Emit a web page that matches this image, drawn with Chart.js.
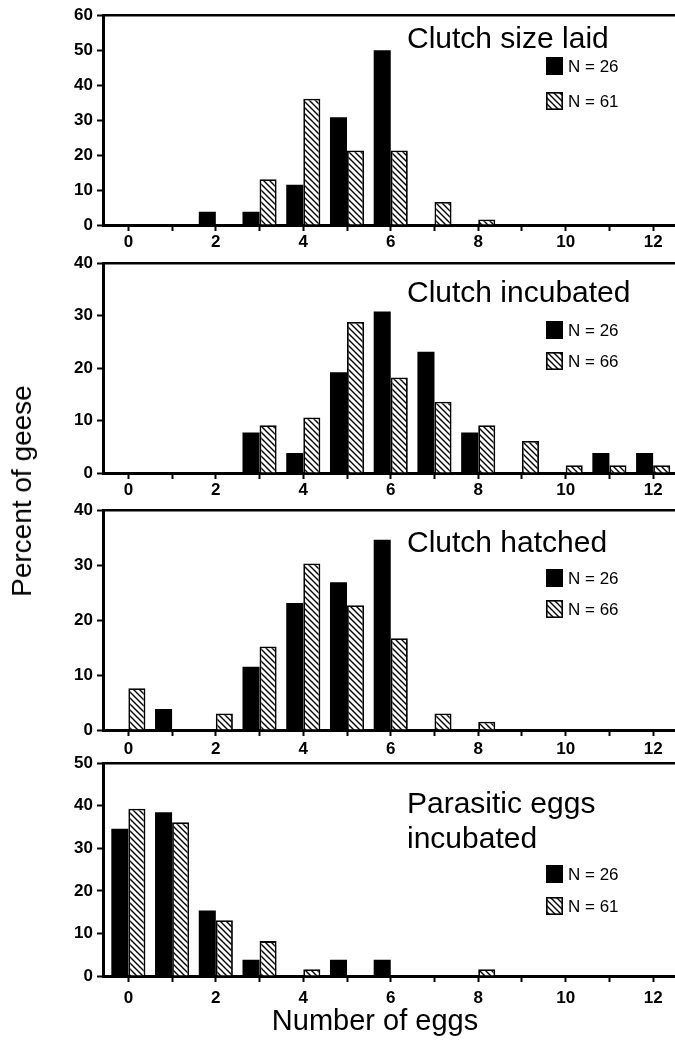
<!DOCTYPE html>
<html><head><meta charset="utf-8">
<script src="https://cdn.jsdelivr.net/npm/chart.js@4.4.0/dist/chart.umd.min.js"></script>
<style>
html,body{margin:0;padding:0;background:#fff;}
#wrap{position:relative;width:675px;height:1040px;overflow:hidden;background:#fff;}
canvas{position:absolute;left:0;}
.lbl{position:absolute;font-family:"Liberation Sans",Arial,Helvetica,sans-serif;color:#000;white-space:nowrap;line-height:1;}
#ylab{left:22px;top:491px;font-size:28px;transform:translate(-50%,-50%) rotate(-90deg);}
#xlab{left:375px;top:1020px;font-size:29px;transform:translate(-50%,-50%);}
</style></head><body>
<div id="wrap">
<canvas id="c1" width="675" height="257" style="top:1px"></canvas>
<canvas id="c2" width="675" height="257" style="top:249px"></canvas>
<canvas id="c3" width="675" height="267" style="top:496px"></canvas>
<canvas id="c4" width="675" height="260" style="top:749px"></canvas>
<div class="lbl" id="ylab">Percent of geese</div>
<div class="lbl" id="xlab">Number of eggs</div>
</div>
<script>
// ---- data (percent of geese per number of eggs) ----
const eggCounts = [0,1,2,3,4,5,6,7,8,9,10,11,12];
const xTickLabels = ['0','','2','','4','','6','','8','','10','','12'];

const laidN26 = [0,0,3.8,3.8,11.5,30.8,50.0,0,0,0,0,0,0];
const laidN61 = [0,0,0,13.1,36.1,21.3,21.3,6.6,1.6,0,0,0,0];

const incubN26 = [0,0,0,7.7,3.8,19.2,30.8,23.1,7.7,0,0,3.8,3.8];
const incubN66 = [0,0,0,9.1,10.6,28.8,18.2,13.6,9.1,6.1,1.5,1.5,1.5];

const hatchN26 = [0,3.8,0,11.5,23.1,26.9,34.6,0,0,0,0,0,0];
const hatchN66 = [7.6,0,3.0,15.2,30.3,22.7,16.7,3.0,1.5,0,0,0,0];

const parasN26 = [34.6,38.5,15.4,3.8,0,3.8,3.8,0,0,0,0,0,0];
const parasN61 = [39.3,36.1,13.1,8.2,1.6,0,0,0,1.6,0,0,0,0];

const panelTitles = [['Clutch size laid'],['Clutch incubated'],['Clutch hatched'],['Parasitic eggs','incubated']];
const legendSolid = ['N = 26','N = 26','N = 26','N = 26'];
const legendHatched = ['N = 61','N = 66','N = 66','N = 61'];
const yMaxes = [60,40,40,50];

// ---- styling ----
const FAMILY = '"Liberation Sans", Arial, Helvetica, sans-serif';

function makeHatch(){
  const s = 6;
  const c = document.createElement('canvas');
  c.width = s; c.height = s;
  const g = c.getContext('2d');
  g.fillStyle = '#fff'; g.fillRect(0,0,s,s);
  g.strokeStyle = '#000'; g.lineWidth = 1.4;
  g.beginPath();
  g.moveTo(-1,-1); g.lineTo(s+1,s+1);
  g.moveTo(-1,s-1); g.lineTo(1,s+1);
  g.moveTo(s-1,-1); g.lineTo(s+1,1);
  g.stroke();
  return g.createPattern(c,'repeat');
}
const hatch = makeHatch();

const panelText = {
  id:'panelText',
  afterDraw(chart, args, opts){
    const ctx = chart.ctx, off = opts.top;
    ctx.save();
    ctx.fillStyle = '#000';
    ctx.font = '30px ' + FAMILY;
    ctx.textAlign = 'left';
    ctx.textBaseline = 'alphabetic';
    opts.title.forEach((t,i)=>ctx.fillText(t, 407, opts.titleY[i]-off));
    const ds = chart.data.datasets;
    opts.legendY.forEach((y,i)=>{
      const cy = y - off;
      ctx.fillStyle = ds[i].backgroundColor;
      ctx.fillRect(546, cy-9, 17, 18);
      if (i===1){ ctx.lineWidth = 1.6; ctx.strokeStyle = '#000'; ctx.strokeRect(546.8, cy-8.2, 15.4, 16.4); }
      ctx.fillStyle = '#000';
      ctx.font = '17px ' + FAMILY;
      ctx.textBaseline = 'middle';
      ctx.fillText(ds[i].label, 568, cy+1);
    });
    ctx.restore();
  }
};

function series(arr){ return eggCounts.map((x,i)=>({x:x, y: arr[i] > 0 ? arr[i] : null})); }

function makePanel(id, canvasTop, a, b, idx, xPad, titleY, legendY){
  new Chart(document.getElementById(id), {
    type:'bar',
    data:{datasets:[
      {label:legendSolid[idx], data:series(a), backgroundColor:'#000', borderColor:'#000', borderWidth:0,
       categoryPercentage:0.78, barPercentage:1.0},
      {label:legendHatched[idx], data:series(b), backgroundColor:hatch, borderColor:'#000', borderWidth:1.8,
       borderSkipped:'bottom', categoryPercentage:0.78, barPercentage:1.0}
    ]},
    options:{
      responsive:false, animation:false, events:[],
      layout:{padding:{top:12,left:0,right:0,bottom:0}},
      plugins:{legend:{display:false}, tooltip:{enabled:false},
        panelText:{top:canvasTop, title:panelTitles[idx], titleY:titleY, legendY:legendY}},
      scales:{
        x:{type:'linear', position:'bottom', min:-0.58, max:12.5, offset:false,
          afterFit(s){ s.height = 33; },
          ticks:{stepSize:1, includeBounds:false, autoSkip:false, maxRotation:0, minRotation:0,
            callback:(v)=> (xTickLabels[v] !== undefined ? xTickLabels[v] : ''),
            color:'#000', font:{family:FAMILY, size:17, weight:'bold'}, padding:xPad},
          grid:{display:true, drawOnChartArea:false, drawTicks:true, tickLength:6, tickWidth:2, tickColor:'#000', offset:false},
          border:{display:true, color:'#000', width:3}},
        xTop:{type:'linear', position:'top', display:true, min:0, max:1,
          afterFit(s){ s.height = 0; },
          ticks:{display:false}, grid:{display:false},
          border:{display:true, color:'#000', width:2.5}},
        y:{type:'linear', min:0, max:yMaxes[idx],
          afterFit(s){ s.width = 103; },
          ticks:{stepSize:10, color:'#000', font:{family:FAMILY, size:17, weight:'bold'}, padding:4},
          grid:{display:true, drawOnChartArea:false, drawTicks:true, tickLength:6, tickWidth:2, tickColor:'#000'},
          border:{display:true, color:'#000', width:3}}
      }
    },
    plugins:[panelText]
  });
}

makePanel('c1', 1,   laidN26,  laidN61,  0, 1, [48],      [66,101]);
makePanel('c2', 249, incubN26, incubN66, 1, 1, [302],     [330,361]);
makePanel('c3', 496, hatchN26, hatchN66, 2, 3, [552],     [578,609]);
makePanel('c4', 749, parasN26, parasN61, 3, 6, [813,848], [874,906]);
</script>
</body></html>
